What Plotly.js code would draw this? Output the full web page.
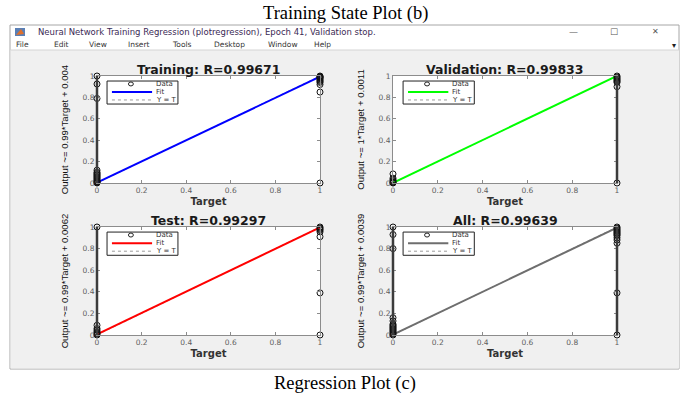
<!DOCTYPE html>
<html><head><meta charset="utf-8">
<script src="https://cdn.plot.ly/plotly-3.0.1.min.js"></script>
<style>html,body{margin:0;padding:0;background:#fff;}#chart{width:691px;height:397px;}</style>
</head><body><div id="chart"></div>
<script>
// ---------- data ----------
const pageTopCaption = "Training State Plot (b)";
const pageBottomCaption = "Regression Plot (c)";
const windowTitle = "Neural Network Training Regression (plotregression), Epoch 41, Validation stop.";
const menuItems = ["File", "Edit", "View", "Insert", "Tools", "Desktop", "Window", "Help"];
const panelTitles = ["Training: R=0.99671", "Validation: R=0.99833", "Test: R=0.99297", "All: R=0.99639"];
const yAxisLabels = ["Output ~= 0.99*Target + 0.004", "Output ~= 1*Target + 0.0011",
                     "Output ~= 0.99*Target + 0.0062", "Output ~= 0.99*Target + 0.0039"];
const xAxisLabel = "Target";
const legendLabels = ["Data", "Fit", "Y = T"];
const tickValues = [0, 0.2, 0.4, 0.6, 0.8, 1];
const tickLabels = ["0", "0.2", "0.4", "0.6", "0.8", "1"];

const trainTarget = [0,0,0,0,0,0,0,0,0,0,0,0,0,0,0,0,0, 1,1,1,1,1,1,1,1,1,1,1,1];
const trainOutput = [0,0.005,0.01,0.015,0.02,0.03,0.04,0.05,0.06,0.07,0.08,0.09,0.1,0.12,0.79,0.925,1.0,
                     1.0,0.995,0.99,0.985,0.98,0.97,0.96,0.95,0.94,0.92,0.85,0.0];
const valTarget = [0,0,0,0,0,0,0, 1,1,1,1,1,1,1,1,1];
const valOutput = [0,0.005,0.01,0.02,0.03,0.045,0.085, 1.0,0.99,0.98,0.97,0.96,0.95,0.94,0.9,0.0];
const testTarget = [0,0,0,0,0,0,0,0, 1,1,1,1,1,1,1,1];
const testOutput = [0,0.01,0.02,0.03,0.045,0.06,0.09,1.0, 1.0,0.99,0.98,0.97,0.955,0.91,0.39,0.0];
const allTarget = [0,0,0,0,0,0,0,0,0,0,0,0,0,0,0,0, 1,1,1,1,1,1,1,1,1,1,1,1,1,1];
const allOutput = [0,0.01,0.02,0.03,0.04,0.05,0.06,0.07,0.08,0.09,0.1,0.13,0.16,0.8,0.93,1.0,
                   1.0,0.99,0.98,0.97,0.96,0.95,0.94,0.93,0.92,0.9,0.85,0.39,0.0,0.88];
const fitX = [0, 1];
const trainFit = [0.004, 0.994];
const valFit = [0.0011, 1.0011];
const testFit = [0.0062, 0.9962];
const allFit = [0.0039, 0.9939];
const identityY = [0, 1];

// ---------- layout helpers ----------
const W = 691, H = 397;
const px = x => x / W;
const py = y => 1 - y / H;

const panels = [
  {t: trainTarget, o: trainOutput, fit: trainFit, color: '#0000ff', xr: [97, 320], yr: [76, 183], thick: [0]},
  {t: valTarget, o: valOutput, fit: valFit, color: '#00ff00', xr: [393, 617], yr: [76, 183], thick: [1]},
  {t: testTarget, o: testOutput, fit: testFit, color: '#ff0000', xr: [97, 320], yr: [227, 335], thick: [0]},
  {t: allTarget, o: allOutput, fit: allFit, color: '#6e6e6e', xr: [393, 617], yr: [227, 335], thick: [0, 1]}
];

const traces = [];
const layout = {
  width: W, height: H,
  margin: {l: 0, r: 0, t: 0, b: 0},
  paper_bgcolor: '#ffffff', plot_bgcolor: '#ffffff',
  showlegend: false,
  shapes: [], annotations: []
};

// window frame
layout.shapes.push({type: 'rect', xref: 'paper', yref: 'paper', layer: 'below',
  x0: px(10), x1: px(679), y0: py(369), y1: py(25), fillcolor: '#ffffff', line: {color: '#a6a6a6', width: 1}});
layout.shapes.push({type: 'rect', xref: 'paper', yref: 'paper', layer: 'below',
  x0: px(10.5), x1: px(679), y0: py(368.5), y1: py(50), fillcolor: '#f0f0f0', line: {width: 0}});
layout.shapes.push({type: 'line', xref: 'paper', yref: 'paper', layer: 'below',
  x0: px(10.5), x1: px(679), y0: py(50), y1: py(50), line: {color: '#d4d4d4', width: 1}});
// title bar icon
layout.shapes.push({type: 'rect', xref: 'paper', yref: 'paper', layer: 'below',
  x0: px(15), x1: px(25), y0: py(36), y1: py(28), fillcolor: '#5a7fb5', line: {width: 0}});
layout.shapes.push({type: 'path', xref: 'paper', yref: 'paper', layer: 'below',
  path: `M ${px(16)} ${py(35)} L ${px(21)} ${py(29)} L ${px(24)} ${py(34)} Z`, fillcolor: '#e0702a', line: {width: 0}});

const ann = (text, x, y, size, opts) => Object.assign({
  text, x: px(x), y: py(y), xref: 'paper', yref: 'paper', showarrow: false,
  xanchor: 'center', yanchor: 'middle', font: {family: 'DejaVu Sans', size, color: '#333'}
}, opts || {});

layout.annotations.push(ann(pageTopCaption, 345, 13, 18.5, {font: {family: 'Liberation Serif', size: 18.5, color: '#000'}}));
layout.annotations.push(ann(pageBottomCaption, 345, 383, 18.5, {font: {family: 'Liberation Serif', size: 18.5, color: '#000'}}));
layout.annotations.push(ann(windowTitle, 36, 32, 8.5, {xanchor: 'left', font: {family: 'DejaVu Sans', size: 8.5, color: '#3b2a55'}}));
layout.annotations.push(ann('—', 573, 32, 9, {font: {family: 'DejaVu Sans', size: 9, color: '#555'}}));
layout.annotations.push(ann('☐', 614, 32, 9, {font: {family: 'DejaVu Sans', size: 9, color: '#555'}}));
layout.annotations.push(ann('✕', 655, 32, 8, {font: {family: 'DejaVu Sans', size: 8, color: '#555'}}));
layout.annotations.push(ann('▾', 674, 45, 8, {font: {family: 'DejaVu Sans', size: 8, color: '#222'}}));
const menuX = [14, 52, 87, 126, 170, 212, 266, 312];
menuItems.forEach((m, i) => layout.annotations.push(ann(m, menuX[i], 44, 7.5, {xanchor: 'left', font: {family: 'DejaVu Sans', size: 7.5, color: '#333'}})));

panels.forEach((p, i) => {
  const sfx = i === 0 ? '' : String(i + 1);
  const xa = 'x' + sfx, ya = 'y' + sfx;
  const axCommon = {
    range: [0, 1], tickvals: tickValues, ticktext: tickLabels,
    ticks: 'inside', ticklen: 3, tickcolor: '#8c8c8c', tickwidth: 1,
    showline: true, linecolor: '#8c8c8c', linewidth: 1, mirror: 'ticks',
    showgrid: false, zeroline: false, fixedrange: true,
    tickfont: {family: 'DejaVu Sans', size: 7.5, color: '#5e5e5e'}
  };
  layout['xaxis' + sfx] = Object.assign({}, axCommon, {
    domain: [px(p.xr[0]), px(p.xr[1])], anchor: ya,
    title: {text: xAxisLabel, font: {family: 'DejaVu Sans', size: 10, color: '#333', weight: 'bold'}, standoff: 3}
  });
  layout['yaxis' + sfx] = Object.assign({}, axCommon, {
    domain: [py(p.yr[1]), py(p.yr[0])], anchor: xa,
    title: {text: yAxisLabels[i], font: {family: 'Liberation Sans', size: 9.6, color: '#111'}, standoff: 12}
  });
  const dx = xa + ' domain', dy = ya + ' domain';
  layout.shapes.push({type: 'rect', xref: dx, yref: dy, layer: 'below', x0: 0, x1: 1, y0: 0, y1: 1, fillcolor: '#ffffff', line: {width: 0}});

  traces.push({type: 'scatter', mode: 'lines', x: fitX, y: identityY, xaxis: xa, yaxis: ya,
    line: {color: '#a0a0a0', width: 1, dash: 'dot'}, hoverinfo: 'skip', cliponaxis: false});
  traces.push({type: 'scatter', mode: 'lines', x: fitX, y: p.fit, xaxis: xa, yaxis: ya,
    line: {color: p.color, width: 2}, hoverinfo: 'skip', cliponaxis: true});
  traces.push({type: 'scatter', mode: 'markers', x: p.t, y: p.o, xaxis: xa, yaxis: ya,
    marker: {symbol: 'circle-open', size: 6, color: '#111', line: {width: 1, color: '#111'}}, cliponaxis: false});

  // heavy side lines
  p.thick.forEach(s => layout.shapes.push({type: 'line', xref: dx, yref: dy, x0: s, x1: s, y0: 0, y1: 1,
    line: {color: '#3c3c3c', width: 2.5}}));

  // panel title
  layout.annotations.push({text: '<b>' + panelTitles[i] + '</b>', xref: dx, yref: dy, x: 0.5, y: 1,
    xanchor: 'center', yanchor: 'bottom', showarrow: false, yshift: -3,
    font: {family: 'DejaVu Sans', size: 12.5, color: '#1a1a1a'}});

  // legend box (MATLAB style)
  layout.shapes.push({type: 'rect', xref: dx, yref: dy, x0: 0.045, x1: 0.363, y0: 0.738, y1: 0.953,
    fillcolor: '#ffffff', line: {color: '#222', width: 1}});
  layout.shapes.push({type: 'circle', xref: dx, yref: dy, x0: 0.141, x1: 0.163, y0: 0.907, y1: 0.944,
    line: {color: '#222', width: 1}});
  layout.shapes.push({type: 'line', xref: dx, yref: dy, x0: 0.067, x1: 0.247, y0: 0.85, y1: 0.85,
    line: {color: p.color, width: 2}});
  layout.shapes.push({type: 'line', xref: dx, yref: dy, x0: 0.067, x1: 0.247, y0: 0.776, y1: 0.776,
    line: {color: '#9a9a9a', width: 1, dash: 'dot'}});
  const rowsY = [0.925, 0.85, 0.776];
  legendLabels.forEach((lab, k) => layout.annotations.push({text: lab, xref: dx, yref: dy, x: 0.255, y: rowsY[k],
    xanchor: 'left', yanchor: 'middle', showarrow: false, font: {family: 'DejaVu Sans', size: 7, color: '#333'}}));
});

Plotly.newPlot('chart', traces, layout, {displayModeBar: false, staticPlot: true});
</script></body></html>
